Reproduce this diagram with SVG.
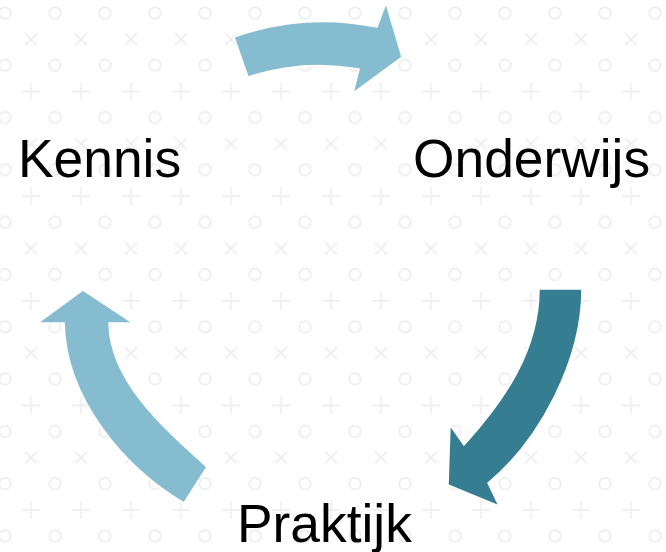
<svg xmlns="http://www.w3.org/2000/svg" width="666" height="552" viewBox="0 0 666 552">
  <style>
    .lbl { font-family: "Liberation Sans", Arial, sans-serif; font-size: 53.33px; fill: #000000; }
    .sym { fill: none; stroke: #eeeeee; stroke-width: 1.9; }
    .arr { stroke: #ffffff; stroke-width: 1.5; stroke-linejoin: miter; }
    .light { fill: #86bcd0; }
    .dark { fill: #357e91; }
  </style>
  <defs>
    <pattern id="bg" patternUnits="userSpaceOnUse" x="-7.5" y="0" width="50" height="104.6">
      <circle class="sym" cx="12.5" cy="13" r="5.8"/>
      <path class="sym" d="M32.5 33.2 L44.5 45.2 M44.5 33.2 L32.5 45.2"/>
      <circle class="sym" cx="12.5" cy="65.3" r="5.8"/>
      <path class="sym" d="M38.5 82.5 V100.5 M29.5 91.5 H47.5"/>
    </pattern>
  </defs>
  <rect id="background" x="0" y="0" width="666" height="552" fill="#ffffff"/>
  <rect x="0" y="0" width="666" height="552" fill="url(#bg)"/>
  <g id="connectors">
    <path id="arrow-kennis-onderwijs" class="arr light" d="M234 37 Q305 12 377 27 L386 3 L402 57 L353 93 L359 69 Q302.5 59 248 77 Z"/>
    <path id="arrow-onderwijs-praktijk" class="arr dark" d="M539 289 L582 289 C582 360 540 440 488 483 L499 506 L448 485 L450 425 L464 445 C505 400 539 350 539 289 Z"/>
    <path id="arrow-praktijk-kennis" class="arr light" d="M207 467 L184 503 C125 468 66 400 64 323 L38 323 L83 290 L133 323 L109 323 C110 380 160 425 207 467 Z"/>
  </g>
  <g id="node-kennis">
    <text class="lbl" x="18" y="177">Kennis</text>
  </g>
  <g id="node-onderwijs">
    <text class="lbl" x="413" y="177">Onderwijs</text>
  </g>
  <g id="node-praktijk">
    <text class="lbl" x="237" y="542">Praktijk</text>
  </g>
</svg>
